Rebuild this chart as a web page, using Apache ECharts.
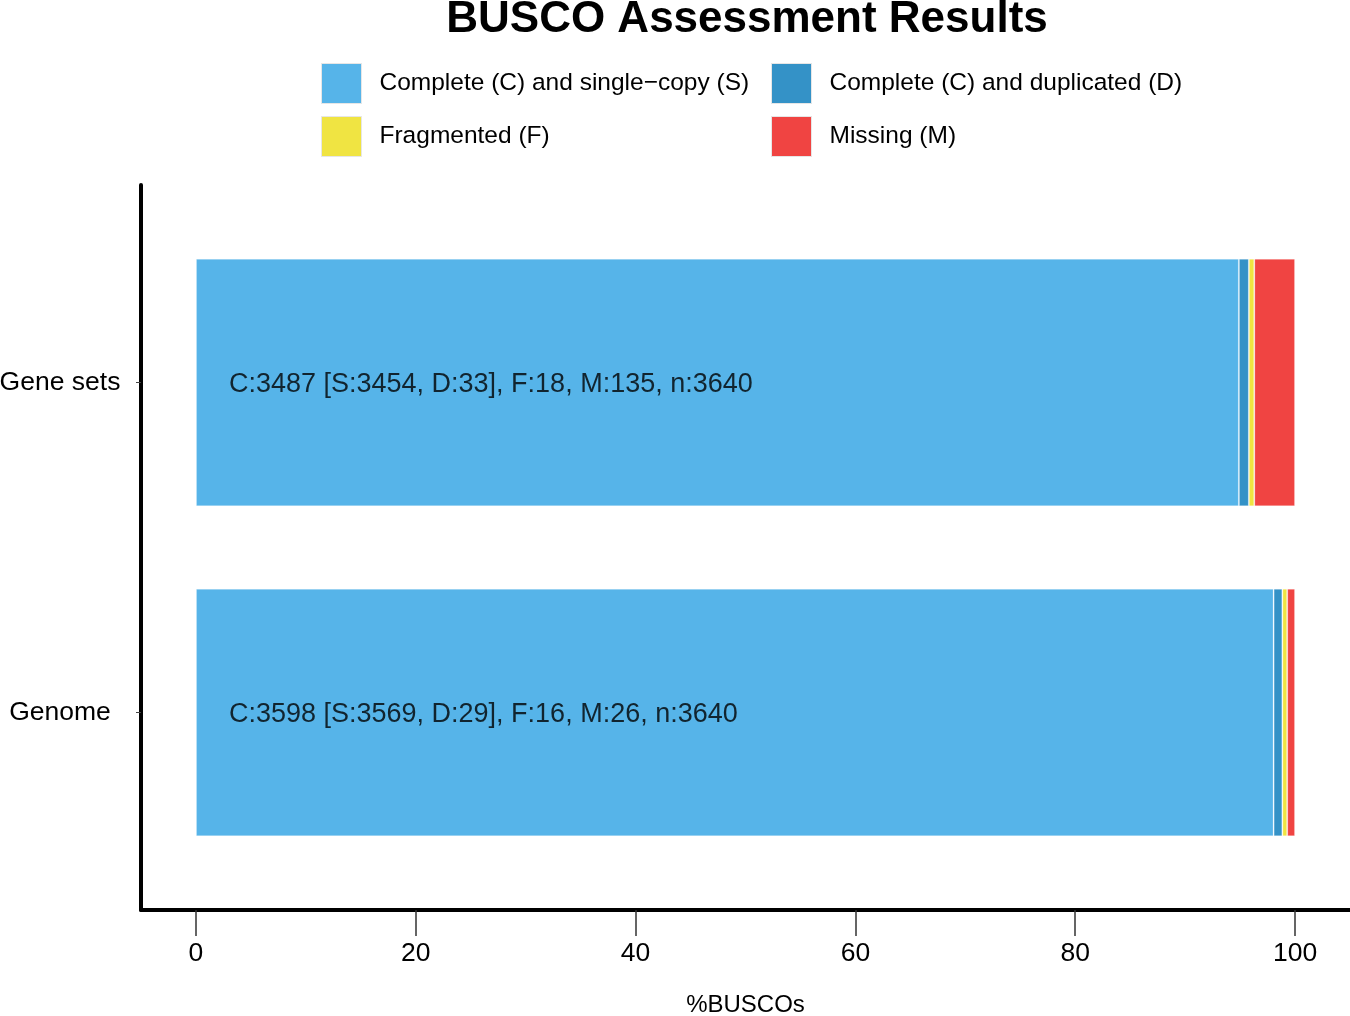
<!DOCTYPE html>
<html><head><meta charset="utf-8">
<script src="https://cdn.jsdelivr.net/npm/echarts@6/dist/echarts.min.js"></script>
<style>html,body{margin:0;padding:0;background:#fff}#c{width:1350px;height:1016px}</style>
</head><body><div id="c"></div>
<script>
const categories = ['Genome', 'Gene sets'];
const singleCopy = [3569, 3454];
const duplicated = [29, 33];
const fragmented = [16, 18];
const missing = [26, 135];
const totals = [3640, 3640];
const seriesNames = ['Complete (C) and single\u2212copy (S)', 'Complete (C) and duplicated (D)', 'Fragmented (F)', 'Missing (M)'];
const colors = ['#56B4E9', '#3492C7', '#F0E442', '#F04442'];
const xTicks = [0, 20, 40, 60, 80, 100];

const pct = (arr) => arr.map((v, i) => v / totals[i] * 100);
const labels = categories.map((c, i) =>
  `C:${singleCopy[i] + duplicated[i]} [S:${singleCopy[i]}, D:${duplicated[i]}], F:${fragmented[i]}, M:${missing[i]}, n:${totals[i]}`);
const font = 'Liberation Sans, Arial, sans-serif';
const segs = [singleCopy, duplicated, fragmented, missing];

const chart = echarts.init(document.getElementById('c'), null, {renderer: 'canvas'});
chart.setOption({
  animation: false,
  textStyle: {fontFamily: font},
  title: {
    text: 'BUSCO Assessment Results', left: 742, top: -7, textAlign: 'center',
    textStyle: {fontFamily: font, fontWeight: 'bold', fontSize: 44, color: '#000'}
  },
  legend: [
    {data: [seriesNames[0], seriesNames[2]], orient: 'vertical', left: 316, top: 58,
     itemWidth: 40, itemHeight: 40, itemGap: 12, icon: 'rect',
     itemStyle: {borderColor: '#e6e6e6', borderWidth: 1},
     textStyle: {fontFamily: font, fontSize: 24.5, color: '#000', padding: [0, 0, 0, 13]}},
    {data: [seriesNames[1], seriesNames[3]], orient: 'vertical', left: 766, top: 58,
     itemWidth: 40, itemHeight: 40, itemGap: 12, icon: 'rect',
     itemStyle: {borderColor: '#e6e6e6', borderWidth: 1},
     textStyle: {fontFamily: font, fontSize: 24.5, color: '#000', padding: [0, 0, 0, 13]}}
  ],
  grid: [
    {left: 141, right: 0, top: 185, bottom: 106, containLabel: false, outerBoundsMode: 'none'},
    {left: 141, right: 0, top: 217.5, bottom: 138.5, containLabel: false, outerBoundsMode: 'none'}
  ],
  xAxis: [
    {gridIndex: 0, type: 'value', min: -5, max: 105,
     axisLine: {show: true, onZero: false, lineStyle: {color: '#000', width: 4}},
     axisTick: {show: true, customValues: xTicks, length: 26, lineStyle: {color: '#333', width: 1.5}},
     axisLabel: {customValues: xTicks, fontSize: 26.5, color: '#000', margin: 30, fontFamily: font},
     splitLine: {show: false},
     name: '%BUSCOs', nameLocation: 'middle', nameGap: 83,
     nameTextStyle: {fontSize: 24, color: '#000', fontFamily: font}},
    {gridIndex: 1, type: 'value', min: -5, max: 105, show: false}
  ],
  yAxis: [
    {gridIndex: 0, type: 'value', min: 0.4, max: 2.6,
     axisLine: {show: true, onZero: false, lineStyle: {color: '#000', width: 4}},
     axisTick: {show: true, customValues: [1, 2], length: 5, lineStyle: {color: '#444', width: 1}},
     axisLabel: {customValues: [1, 2], formatter: (v) => categories[Math.round(v) - 1],
                 fontSize: 26.5, color: '#000', margin: 81, align: 'center', fontFamily: font,
                 padding: [4, 0, 0, 0]},
     splitLine: {show: false}},
    {gridIndex: 1, type: 'category', data: categories, show: false}
  ],
  series: segs.map((arr, k) => ({
    name: seriesNames[k], type: 'bar', stack: 'busco',
    xAxisIndex: 1, yAxisIndex: 1, barWidth: '75%',
    itemStyle: {color: colors[k], borderColor: 'rgba(255,255,255,0.25)', borderWidth: 1},
    data: pct(arr)
  })).concat([{
    type: 'scatter', xAxisIndex: 1, yAxisIndex: 1, symbolSize: 0, silent: true,
    data: categories.map((c, i) => [3, c]),
    label: {show: true, position: 'right', distance: 0, offset: [0, 2], fontSize: 27, color: '#000', fontFamily: font,
            formatter: (p) => labels[p.dataIndex]}
  }])
});
</script></body></html>
